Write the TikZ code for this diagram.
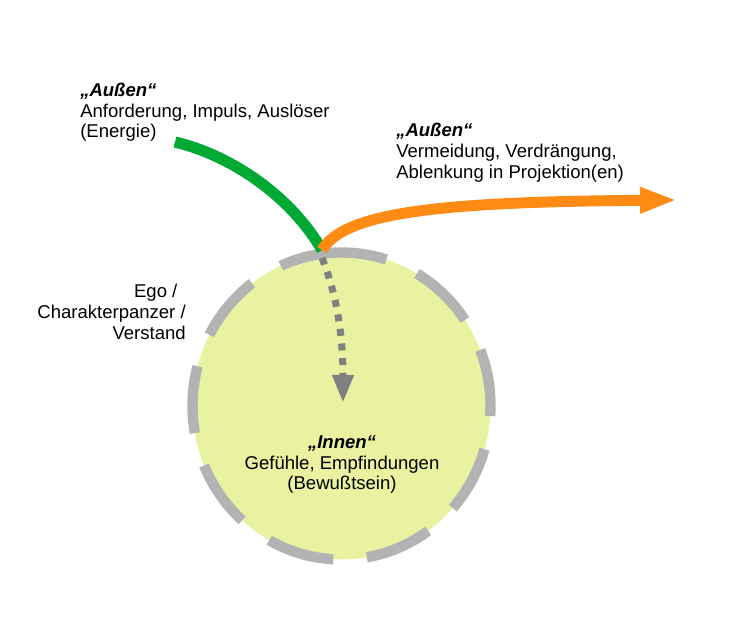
\documentclass[tikz,border=0pt]{standalone}
\usepackage{fontspec}
\setmainfont{Liberation Sans}
\usetikzlibrary{arrows.meta}
\definecolor{ringgray}{HTML}{B3B3B3}
\definecolor{dotgray}{HTML}{808080}
\definecolor{innerfill}{HTML}{E8F2A1}
\definecolor{ingreen}{HTML}{00A933}
\definecolor{outorange}{HTML}{FF8A14}
\tikzset{
  txt/.style={inner sep=0pt, font=\fontsize{13.9pt}{15.6pt}\selectfont},
  ring/.style={draw=ringgray, line width=7.8pt, dash pattern=on 50.5pt off 25.3pt},
  greenline/.style={draw=ingreen, line width=8.4pt},
  orangeline/.style={draw=outorange, line width=8.2pt, -{Triangle[length=27.75pt, width=18pt]}},
  dotline/.style={draw=dotgray, line width=5.25pt, dash pattern=on 5.25pt off 5.75pt, -{Triangle[length=21pt, width=15pt]}}
}
\newcommand{\quoted}[1]{\textbf{\textit{„#1“}}}
\begin{document}
\begin{tikzpicture}[x=0.75pt,y=0.75pt]
    \useasboundingbox (0,0) rectangle (748,642);
    % circle
    \coordinate (c) at (341.5,236);
    \fill[innerfill] (c) ellipse[x radius=149, y radius=153.5];
    \draw[ring] (c) ++({149*cos(88.2)},{153.5*sin(88.2)}) arc[start angle=88.2, end angle=448.2, x radius=149, y radius=153.5];
    % end points of the arrows
    \coordinate (entry) at (322,392);
    \coordinate (dotstart) at (322,384);
    \coordinate (src) at (175,500);
    \coordinate (dst) at (677,442);
    \coordinate (core) at (343,239);
    % arrows
    \draw[dotline] (dotstart) .. controls (335,352) and (343,312) .. (core);
    \draw[greenline] (src) .. controls (230,487) and (290,447) .. (entry);
    \draw[orangeline] (entry) .. controls (345,430) and (440,440) .. (dst);
    % texts (base = last line)
    \node[txt, anchor=base west, align=left] (impuls) at (80,504) {\quoted{Außen}\\Anforderung, Impuls, Auslöser\\(Energie)};
    \node[txt, anchor=base west, align=left] (ablenkung) at (396,463.7) {\quoted{Außen}\\Vermeidung, Verdrängung,\\Ablenkung in Projektion(en)};
    \node[txt, anchor=base east, align=right] (ego) at (186,302.7) {Ego /\hspace*{0.45em}\\Charakterpanzer /\\Verstand};
    \node[txt, anchor=base, align=center] (innen) at (342,152) {\quoted{Innen}\\Gefühle, Empfindungen\\(Bewußtsein)};
\end{tikzpicture}
\end{document}
